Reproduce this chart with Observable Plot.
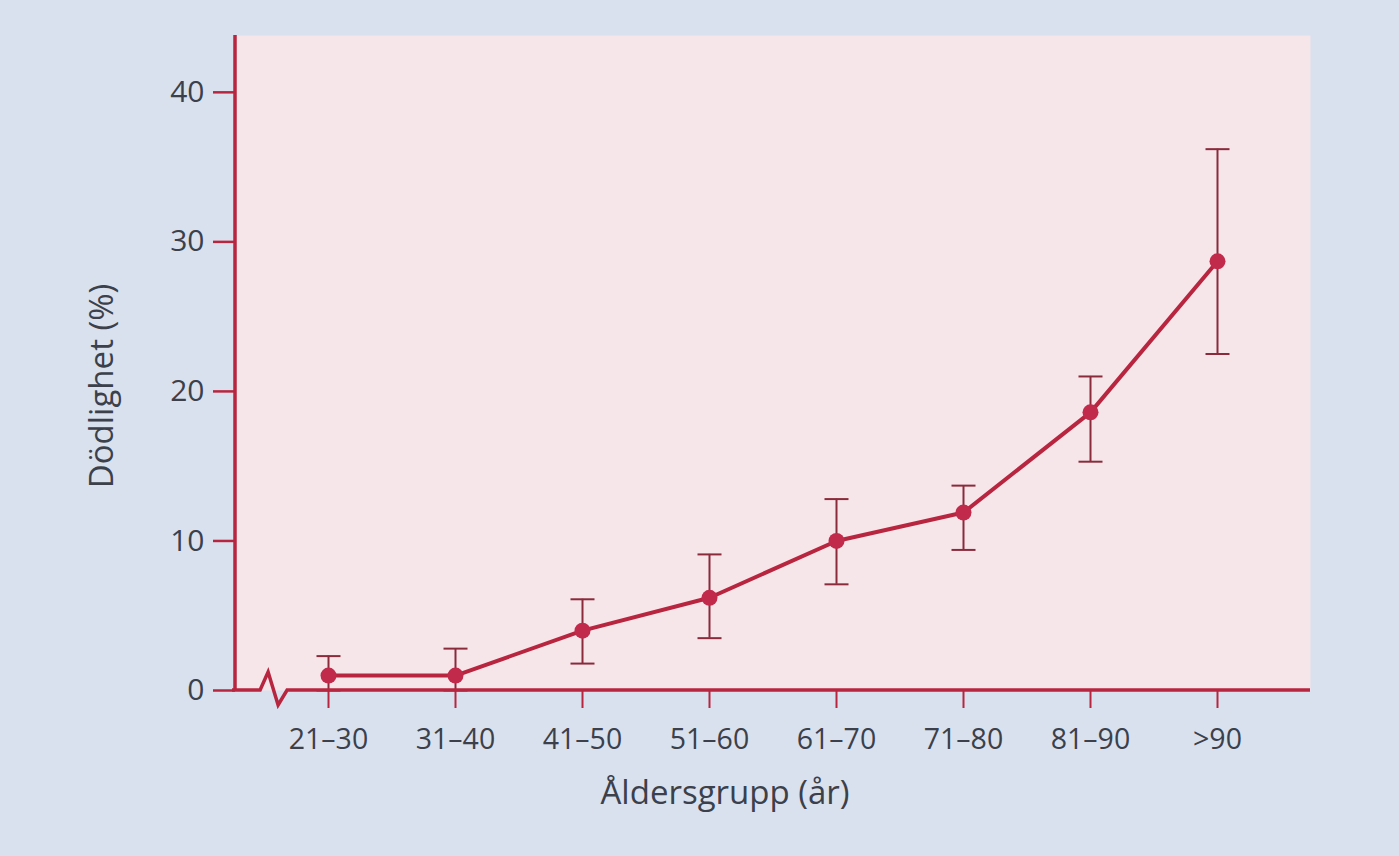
<!DOCTYPE html>
<html>
<head>
<meta charset="utf-8">
<script src="https://cdn.jsdelivr.net/npm/d3@7"></script>
<script src="https://cdn.jsdelivr.net/npm/@observablehq/plot@0.6"></script>
<style>
  html, body { margin: 0; padding: 0; background: #d9e1ee; }
  #chart { width: 1399px; height: 856px; }
</style>
</head>
<body>
<div id="chart"></div>
<script>
const categories = ["21–30", "31–40", "41–50", "51–60", "61–70", "71–80", "81–90", ">90"];
const mortality = [1.0, 1.0, 4.0, 6.2, 10.0, 11.9, 18.6, 28.7];
const upper = [2.3, 2.8, 6.1, 9.1, 12.8, 13.7, 21.0, 36.2];
const lower = [0.0, 0.0, 1.8, 3.5, 7.1, 9.4, 15.3, 22.5];
const yTicks = [0, 10, 20, 30, 40];
const xLabel = "Åldersgrupp (år)";
const yLabel = "Dödlighet (%)";

const data = categories.map((c, i) => ({group: c, value: mortality[i], hi: upper[i], lo: lower[i]}));

const crimson = "#b8253f";
const dark = "#8a2b3b";
const textColor = "#3b404a";
const font = "'Open Sans', Lato, sans-serif";

// horizontal cap symbol for error bars
const capSymbol = {
  draw(ctx, size) {
    const w = Math.sqrt(size / Math.PI);
    ctx.moveTo(-w, 0);
    ctx.lineTo(w, 0);
  }
};

// axis lines (left + bottom) with a break zigzag, computed from scales
function axesWithBreak(index, scales, values, dims) {
  const x0 = dims.marginLeft;
  const x1 = dims.width - dims.marginRight;
  const yTop = dims.marginTop;
  const y0 = scales.y(0);
  const gap = scales.x(categories[0]) - x0;
  const bx = x0 + gap * 0.27;
  const ns = "http://www.w3.org/2000/svg";
  const g = document.createElementNS(ns, "g");
  const p = document.createElementNS(ns, "path");
  p.setAttribute("d",
    `M${x0},${yTop}V${y0}` +
    `M${x0 - 3},${y0}H${bx}L${bx + 8},${y0 - 18}L${bx + 18},${y0 + 15}L${bx + 27},${y0}H${x1}`);
  p.setAttribute("fill", "none");
  p.setAttribute("stroke", crimson);
  p.setAttribute("stroke-width", 3.5);
  p.setAttribute("stroke-linejoin", "miter");
  g.appendChild(p);
  return g;
}

const chart = Plot.plot({
  width: 1399,
  height: 856,
  marginLeft: 235,
  marginRight: 89,
  marginTop: 35,
  marginBottom: 166,
  style: {background: "transparent", fontFamily: font, color: textColor},
  x: {type: "point", domain: categories, padding: 0.72, label: null},
  y: {domain: [0, 43.8], label: null},
  marks: [
    Plot.frame({fill: "#f6e6ea", stroke: null}),
    Plot.axisY({
      ticks: yTicks, tickSize: 22, tickPadding: 9, stroke: crimson, strokeWidth: 2.5,
      fill: textColor, fontSize: 30, label: null
    }),
    Plot.axisX({
      tickSize: 18, tickPadding: 20, stroke: crimson, strokeWidth: 2,
      fill: textColor, fontSize: 28.5, label: null
    }),
    Plot.ruleX(data, {x: "group", y1: "lo", y2: "hi", stroke: dark, strokeWidth: 2}),
    Plot.dot(data, {x: "group", y: "hi", symbol: capSymbol, r: 12, stroke: dark, strokeWidth: 2, fill: "none"}),
    Plot.dot(data, {x: "group", y: "lo", symbol: capSymbol, r: 12, stroke: dark, strokeWidth: 2, fill: "none"}),
    Plot.line(data, {x: "group", y: "value", stroke: crimson, strokeWidth: 4}),
    Plot.dot(data, {x: "group", y: "value", r: 8, fill: "#c22a4b", stroke: "none"}),
    axesWithBreak,
    Plot.text([xLabel], {frameAnchor: "bottom", textAnchor: "middle", lineAnchor: "middle", dx: -48, dy: 103, fontSize: 33, fill: textColor}),
    Plot.text([yLabel], {frameAnchor: "left", textAnchor: "middle", lineAnchor: "middle", rotate: -90, dx: -133, dy: 23, fontSize: 33, fill: textColor})
  ]
});

document.getElementById("chart").appendChild(chart);
</script>
</body>
</html>
